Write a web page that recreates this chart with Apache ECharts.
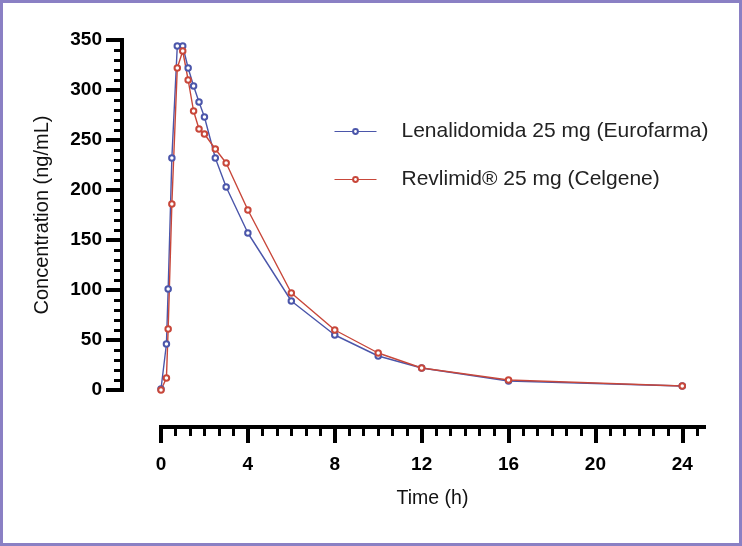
<!DOCTYPE html>
<html>
<head>
    <meta charset="utf-8">
    <script src="https://cdn.jsdelivr.net/npm/echarts@6.0.0/dist/echarts.min.js"></script>
</head>
<body>
    <div id="main"></div>
    <div id="frame"></div>
    <style>
html, body { margin: 0; padding: 0; background: #fff; }
#main { width: 742px; height: 546px; position: absolute; left: 0; top: 0; }
#frame { position: absolute; left: 0; top: 0; width: 742px; height: 546px;
         box-sizing: border-box; border: 3px solid #8a80c4; pointer-events: none; }
    </style>
    <script type="text/javascript">
// sampling times (h)
var times = [0, 0.25, 0.33, 0.5, 0.75, 1, 1.25, 1.5, 1.75, 2, 2.5, 3, 4, 6, 8, 10, 12, 16, 24];
// mean concentrations (ng/mL)
var lenalidomida = [1, 46, 101, 232, 344, 344, 322, 304, 288, 273, 232, 203, 157, 89, 55, 34, 22, 9, 4];
var revlimid = [0, 12, 61, 186, 322, 339, 310, 279, 261, 256, 241, 227, 180, 97, 60, 37, 22, 10, 4];
var xTicks = [0, 4, 8, 12, 16, 20, 24];
var seriesNames = ['Lenalidomida 25 mg (Eurofarma)', 'Revlimid\u00ae 25 mg (Celgene)'];

function pairs(xs, ys) {
    return xs.map(function (x, i) { return [x, ys[i]]; });
}

var font = "'Liberation Sans', Arial, sans-serif";

function lineSeries(name, values, color) {
    return {
        name: name,
        type: 'line',
        data: pairs(times, values),
        symbol: 'emptyCircle',
        symbolSize: 5.5,
        lineStyle: { color: color, width: 1.4 },
        itemStyle: { color: color, borderColor: color, borderWidth: 1.4 },
        emphasis: { disabled: true },
        animation: false
    };
}

var option = {
    backgroundColor: '#fff',
    textStyle: { fontFamily: font },
    grid: { left: 161, right: 38, top: 40, bottom: 156 },
    legend: {
        orient: 'vertical',
        left: 329,
        top: 116,
        itemGap: 27,
        itemWidth: 42,
        itemHeight: 6,
        itemStyle: { borderWidth: 1 },
        lineStyle: { width: 1 },
        textStyle: { fontSize: 21, color: '#222', fontFamily: font, padding: [0, 0, 0, 20] },
        data: seriesNames
    },
    xAxis: {
        type: 'value',
        min: 0,
        max: 25,
        interval: 4,
        offset: 37,
        name: 'Time (h)',
        nameLocation: 'middle',
        nameGap: 62,
        nameTextStyle: { fontSize: 19.5, color: '#111', fontFamily: font },
        axisLine: { show: true, onZero: false, lineStyle: { color: '#000', width: 4, cap: 'square' } },
        axisTick: { show: true, length: 16, lineStyle: { color: '#000', width: 4 }, customValues: xTicks },
        minorTick: { show: true, splitNumber: 6, length: 9, lineStyle: { color: '#000', width: 3 } },
        axisLabel: { fontSize: 19, fontWeight: 'bold', color: '#000', margin: 28, customValues: xTicks },
        splitLine: { show: false }
    },
    yAxis: {
        type: 'value',
        min: 0,
        max: 350,
        interval: 50,
        offset: 39,
        name: 'Concentration (ng/mL)',
        nameLocation: 'middle',
        nameGap: 70,
        nameTextStyle: { fontSize: 20, color: '#111', fontFamily: font },
        axisLine: { show: true, onZero: false, lineStyle: { color: '#000', width: 4, cap: 'square' } },
        axisTick: { show: true, length: 16, lineStyle: { color: '#000', width: 4 } },
        minorTick: { show: true, splitNumber: 5, length: 8, lineStyle: { color: '#000', width: 3 } },
        axisLabel: { fontSize: 19, fontWeight: 'bold', color: '#000', margin: 20 },
        splitLine: { show: false }
    },
    series: [
        lineSeries(seriesNames[0], lenalidomida, '#4b56aa'),
        lineSeries(seriesNames[1], revlimid, '#c8473a')
    ]
};

var chart = echarts.init(document.getElementById('main'));
chart.setOption(option);
    </script>
</body>
</html>
